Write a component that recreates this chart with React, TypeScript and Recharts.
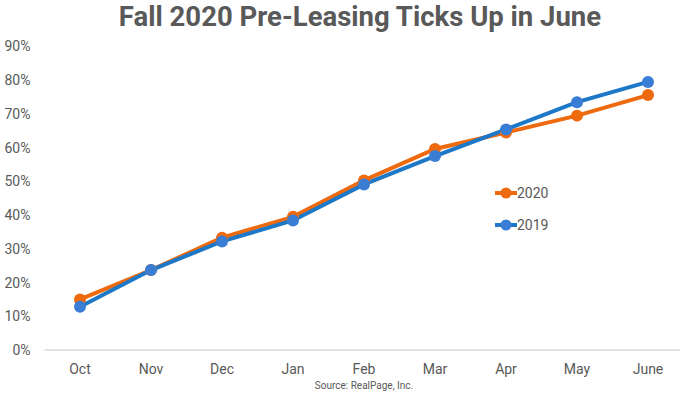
import React from 'react';
import { LineChart, Line, XAxis, YAxis } from 'recharts';

const months = ['Oct', 'Nov', 'Dec', 'Jan', 'Feb', 'Mar', 'Apr', 'May', 'June'];
const values2020 = [15.0, 23.7, 33.3, 39.5, 50.3, 59.6, 64.5, 69.5, 75.6];
const values2019 = [12.8, 23.7, 32.2, 38.4, 49.1, 57.5, 65.4, 73.5, 79.5];
const yTicks = [0, 10, 20, 30, 40, 50, 60, 70, 80, 90];

const data = months.map((m, i) => ({ month: m, y2020: values2020[i], y2019: values2019[i] }));

const ORANGE = '#EE6A0E';
const BLUE_LINE = '#1E78C8';
const BLUE_DOT = '#3A7DD4';
const TEXT = '#595959';

const legendItems = [
  { name: '2020', line: ORANGE, dot: ORANGE },
  { name: '2019', line: BLUE_LINE, dot: BLUE_DOT },
];

const LegendBox = () => (
  <div style={{ position: 'absolute', left: 495, top: 177, fontFamily: 'Roboto', fontSize: 14, color: TEXT }}>
    {legendItems.map((it) => (
      <div key={it.name} style={{ display: 'flex', alignItems: 'center', height: 32 }}>
        <svg width={22} height={14}>
          <line x1={0} y1={7} x2={22} y2={7} stroke={it.line} strokeWidth={4} />
          <circle cx={11} cy={7} r={5.5} fill={it.dot} />
        </svg>
        <span>{it.name}</span>
      </div>
    ))}
  </div>
);

export default function App() {
  return (
    <div style={{ position: 'absolute', left: 0, top: 0, width: 680, height: 395, overflow: 'hidden', background: '#fff' }}>
      <div
        style={{
          position: 'absolute',
          left: 40,
          width: 640,
          top: 0,
          textAlign: 'center',
          fontFamily: 'Roboto',
          fontWeight: 700,
          fontSize: 27.5,
          color: TEXT,
        }}
      >
        Fall 2020 Pre-Leasing Ticks Up in June
      </div>
      <LineChart
        width={700}
        height={395}
        data={data}
        margin={{ top: 46.5, right: 16.5, bottom: 15, left: 0 }}
        style={{ position: 'absolute', left: 0, top: 0 }}
      >
        <XAxis
          dataKey="month"
          height={30}
          padding={{ left: 35.5, right: 35.5 }}
          axisLine={{ stroke: '#D9D9D9', strokeWidth: 1.5 }}
          tickLine={false}
          tickSize={0}
          tick={{ fill: TEXT, fontSize: 14, fontFamily: 'Roboto' }}
          tickMargin={14}
          interval={0}
        />
        <YAxis
          domain={[0, 90]}
          ticks={yTicks}
          tickFormatter={(v: number) => `${v}%`}
          axisLine={false}
          tickLine={false}
          tickSize={0}
          tick={{ fill: TEXT, fontSize: 14, fontFamily: 'Roboto' }}
          width={44.5}
          tickMargin={14}
          interval={0}
        />
        <Line
          type="linear"
          dataKey="y2020"
          name="2020"
          stroke={ORANGE}
          strokeWidth={4}
          dot={{ r: 6, fill: ORANGE, stroke: 'none' }}
          isAnimationActive={false}
        />
        <Line
          type="linear"
          dataKey="y2019"
          name="2019"
          stroke={BLUE_LINE}
          strokeWidth={4}
          dot={{ r: 6, fill: BLUE_DOT, stroke: 'none' }}
          isAnimationActive={false}
        />
      </LineChart>
      <LegendBox />
      <div
        style={{
          position: 'absolute',
          left: 44,
          width: 640,
          top: 380,
          textAlign: 'center',
          fontFamily: 'Roboto',
          fontSize: 10,
          color: TEXT,
        }}
      >
        Source: RealPage, Inc.
      </div>
    </div>
  );
}
